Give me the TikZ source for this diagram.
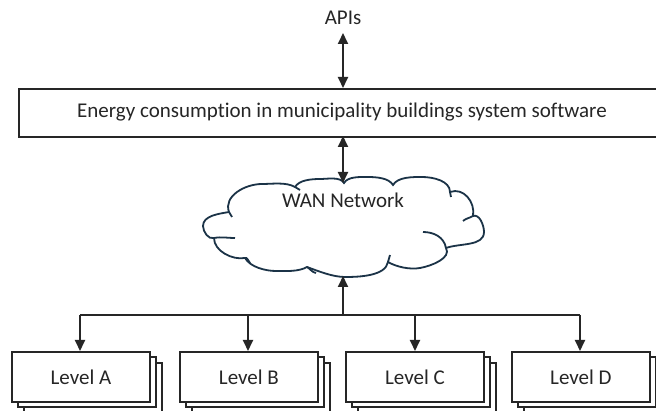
\documentclass[tikz,border=0pt]{standalone}
\usepackage{fontspec}
\setmainfont{Carlito}[Ligatures=NoCommon]
\usetikzlibrary{arrows.meta}
\definecolor{ink}{HTML}{262626}
\definecolor{cloudink}{HTML}{1B3347}
\tikzset{
  x=1pt, y=-1pt,
  every node/.style={font=\fontsize{21}{25}\selectfont, text=ink},
  plainbox/.style={draw=ink, line width=1.8pt, fill=white, inner sep=0pt},
  levelbox/.style={plainbox, minimum width=138pt, minimum height=50pt},
  link/.style={draw=ink, line width=1.8pt, -{Triangle[length=11pt,width=10pt]}},
  duplex/.style={draw=ink, line width=1.8pt, {Triangle[length=11pt,width=10pt]}-{Triangle[length=11pt,width=10pt]}},
  puff/.style={draw=cloudink, line width=1.8pt},
}
\newcommand{\levelstack}[3]{%
  % two sheets behind the front box, then the front box
  \draw[plainbox] (#1+13,#2+12) rectangle ++(138,50);
  \draw[plainbox] (#1+7,#2+6) rectangle ++(138,50);
  \node[levelbox, anchor=north west] (#3) at (#1,#2) {};
}
\begin{document}
\begin{tikzpicture}
\clip (0,0) rectangle (656,411);
\fill[white] (0,0) rectangle (656,411);

% top label and the software box
\node (apis) at (343,18) {APIs};
\coordinate (apisfoot) at (343,33);
\node[plainbox, minimum height=48pt, minimum width=660pt, anchor=north west] (soft) at (18,88) {};
\node at (342,112) {Energy consumption in municipality buildings system software};

\draw[duplex] (apisfoot) -- (343,88);

% WAN cloud
\draw[puff, fill=white]
  (229,212) to[out=110,in=180,looseness=1.0] (262,184) to[out=0,in=150,looseness=0.8] (295,187)
  to[out=60,in=180,looseness=0.8] (320,179) to[out=0,in=120,looseness=0.8] (344,183)
  to[out=60,in=180,looseness=0.8] (368,177) to[out=0,in=120,looseness=0.8] (393,185)
  to[out=60,in=180,looseness=0.8] (422,177) to[out=0,in=90,looseness=0.9] (450,192)
  to[out=20,in=80,looseness=1.1] (473,216)
  to[out=20,in=90,looseness=0.9] (484,232) to[out=-90,in=20,looseness=0.9] (446,248)
  to[out=-60,in=10,looseness=0.9] (420,268) to[out=190,in=-30,looseness=0.8] (388,262)
  to[out=-100,in=0,looseness=0.8] (345,277) to[out=180,in=-20,looseness=0.8] (307,267)
  to[out=-150,in=0,looseness=0.8] (276,271) to[out=180,in=-60,looseness=0.8] (245,258)
  to[out=-170,in=-90,looseness=0.9] (214,238)
  to[out=-160,in=-90,looseness=0.9] (203,226) to[out=90,in=-170,looseness=0.9] (229,212)
  -- cycle;
% small folds inside the cloud
\draw[puff] (214,238) to[out=10,in=180] (235,238);
\draw[puff] (423,232) to[out=0,in=100] (446,248);
\draw[puff] (473,216) to[out=-150,in=40] (463,221);
\draw[puff] (245,258) to[out=20,in=140] (250,263);
\draw[puff] (307,267) to[out=-30,in=170] (316,273);
\draw[puff] (388,262) to[out=80,in=-100] (390,255);
\draw[puff] (229,212) to[out=-60,in=120] (232,217);
\draw[puff] (295,187) to[out=-40,in=150] (300,190);
\draw[puff] (450,192) to[out=-90,in=100] (451,197);

\coordinate (wantop) at (343,183);
\coordinate (wanfoot) at (343,276);
\node (wan) at (343,200) {WAN Network};

\draw[duplex] (343,136) -- (wantop);

% the four levels
\levelstack{11}{351}{la}
\levelstack{179}{351}{lb}
\levelstack{345}{351}{lc}
\levelstack{511}{351}{ld}
\node at (la.center) {Level A};
\node at (lb.center) {Level B};
\node at (lc.center) {Level C};
\node at (ld.center) {Level D};

\coordinate (bus) at (343,315);
\draw[ink, line width=1.8pt] (80,315) -- (580,315);
\draw[link] (bus) -- (wanfoot);
\foreach \xx in {80, 248, 415, 580}
  \draw[link] (\xx,315) -- (\xx,351);
\end{tikzpicture}
\end{document}
